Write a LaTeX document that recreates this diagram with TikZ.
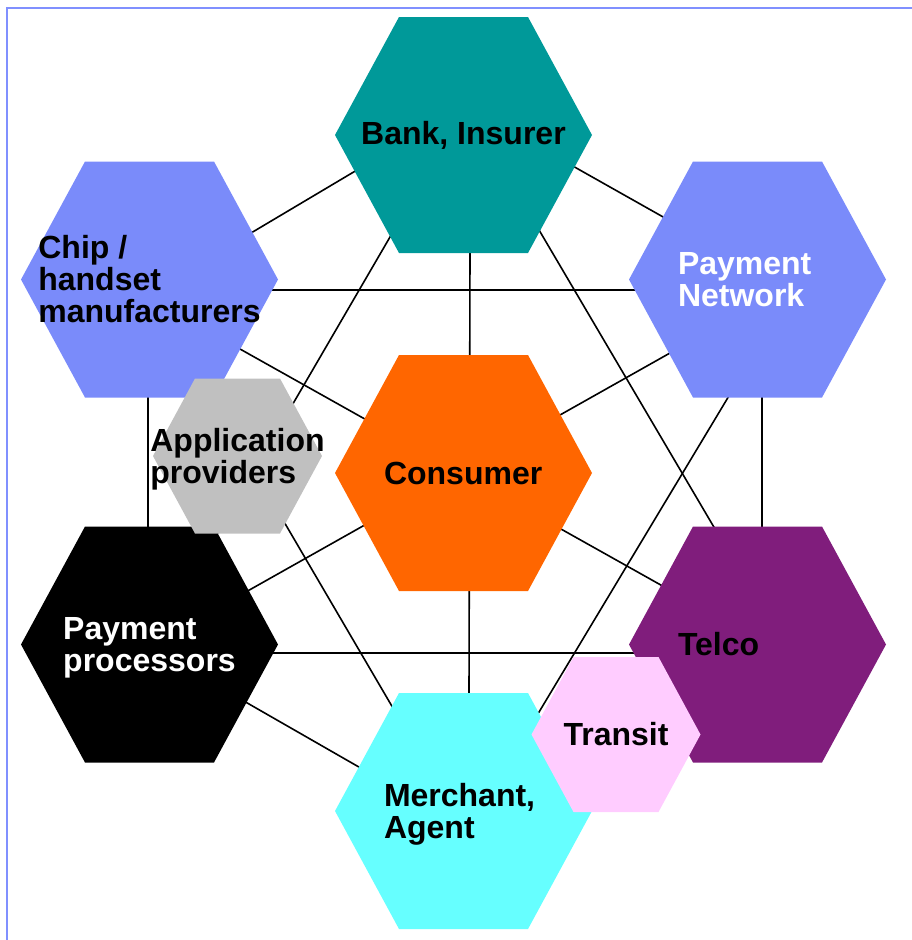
\documentclass[tikz,border=0pt]{standalone}
\usepackage{fontspec}
\setmainfont{Liberation Sans}
\usetikzlibrary{%
  calc,%
  backgrounds%
}
\definecolor{bankteal}{RGB}{0,153,153}
\definecolor{periblue}{RGB}{122,139,250}
\definecolor{frameblue}{RGB}{128,144,255}
\definecolor{consorange}{RGB}{255,102,0}
\definecolor{appgray}{RGB}{192,192,192}
\definecolor{telcopurple}{RGB}{128,29,124}
\definecolor{transpink}{RGB}{255,204,255}
\definecolor{merchcyan}{RGB}{102,255,255}
\tikzset{lbl/.style={font=\bfseries\fontsize{32}{32}\selectfont,inner sep=0pt,
    align=left},%
  wide/.style={text width=159pt},%
  link/.style={line width=1.6pt,line cap=round}}

\begin{document}
\begin{tikzpicture}[x=1pt,y=-1pt]
    \useasboundingbox (0,0) rectangle (911,940);
    \draw[frameblue,line width=2pt] (7,950) -- (7,7.5) -- (920,7.5);
    \foreach \hx/\hy/\col in {463.5/135/bankteal,149.5/279.5/periblue,
      757.5/279.5/periblue,463.5/473/consorange,149.5/644.5/black,
      757.5/644.5/telcopurple,463.5/811/merchcyan} {\fill[\col] (\hx,\hy)
      +(-128.5,0) -- +(-64.5,-118) -- +(64.5,-118) -- +(128.5,0) --
      +(64.5,118) -- +(-64.5,118) -- cycle;};
    \node[lbl] (bank) at (463.5,135) {Bank, Insurer};
    \node[lbl] (chip) at (149.5,279.5) {Chip /\\handset\\manufacturers};
    \node[lbl,wide,white] (paynet) at (757.5,279.5) {Payment\\Network};
    \node[lbl,wide] (cons) at (463.5,473) {Consumer};
    \node[lbl,white] (proc) at (149.5,647.5) {Payment\\processors};
    \node[lbl,wide] (telco) at (757.5,644.5) {Telco};
    \node[lbl,wide] (merch) at (463.5,814) {Merchant,\\Agent};
    \foreach \hx/\hy/\col in {237.5/456/appgray,616/734.5/transpink}
      {\fill[\col] (\hx,\hy) +(-84.5,0) -- +(-42.5,-77.5) -- +(42.5,-77.5)
      -- +(84.5,0) -- +(42.5,77.5) -- +(-42.5,77.5) -- cycle;};
    \node[lbl] (app) at (237.5,459) {Application\\providers};
    \node[lbl] (transit) at (616,734.5) {Transit};
    % links run behind the hexagons
    \begin{pgfonlayer}{background}
    \draw[link] ($(chip)+(101.5,-46.5)$) -- ($(bank)+(-106.5,35)$);
    \draw[link] ($(bank)+(108.9,30.8)$) -- ($(paynet)+(-92.2,-61.3)$);
    \draw[link] ($(paynet)+(4.5,115.5)$) -- ($(telco)+(4.5,-114.5)$);
    \draw[link] ($(proc)+(94.3,53.5)$) -- ($(merch)+(-102,-45.5)$);
    \draw[link] ($(chip)+(-1.5,115.5)$) -- ($(proc)+(-1.5,-117.5)$);
    \draw[link] ($(bank)+(6.5,115)$) -- ($(merch)+(5.5,-118)$);
    \draw[link] ($(chip)+(89.6,69)$) -- ($(telco)+(-94.2,-58.1)$);
    \draw[link] ($(paynet)+(-86.6,73)$) -- ($(proc)+(97.2,-56)$);
    \draw[link] ($(bank)+(-71.8,99.1)$) -- ($(proc)+(66.5,-111.5)$);
    \draw[link] ($(bank)+(75,94.1)$) -- ($(telco)+(-42.4,-115.4)$);
    \draw[link] ($(chip)+(120.5,10.5)$) -- ($(paynet)+(-120.5,10.5)$);
    \draw[link] ($(chip)+(60,115)$) -- ($(merch)+(-69,-103.4)$);
    \draw[link] ($(paynet)+(-28,115.5)$) -- ($(merch)+(74.2,-99.8)$);
    \draw[link] ($(proc)+(121.5,5.5)$) -- ($(telco)+(-121.5,8.5)$);
    \end{pgfonlayer}
  \end{tikzpicture}
\end{document}
